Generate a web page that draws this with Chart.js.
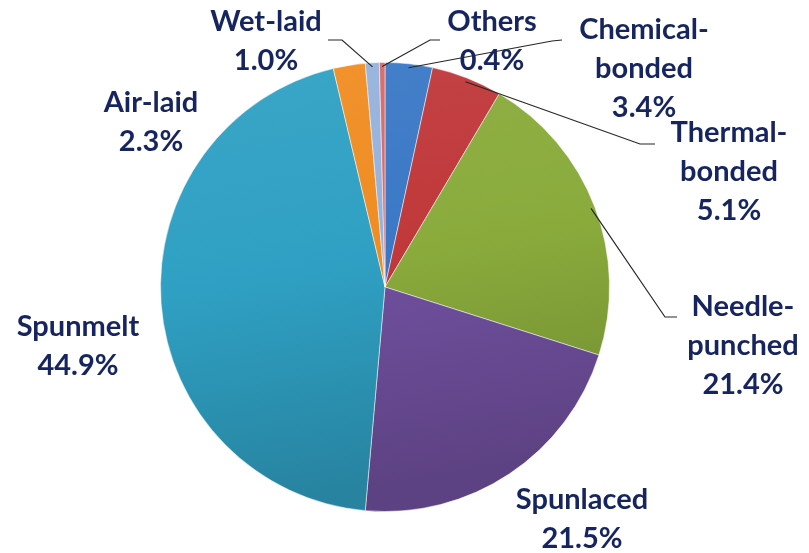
<!DOCTYPE html>
<html>
<head>
<meta charset="utf-8">
<script src="https://cdn.jsdelivr.net/npm/chart.js@4"></script>
<style>
  html, body { margin: 0; padding: 0; background: #ffffff; }
  #wrap { width: 809px; height: 553px; }
</style>
</head>
<body>
<div id="wrap"><canvas id="pie"></canvas></div>
<script>
// Datos del gráfico
const categories = ['Chemical-bonded', 'Thermal-bonded', 'Needle-punched', 'Spunlaced', 'Spunmelt', 'Air-laid', 'Wet-laid', 'Others'];
const shares = [3.4, 5.1, 21.4, 21.5, 44.9, 2.3, 1.0, 0.4];
const labelLines = [['Chemical-', 'bonded'], ['Thermal-', 'bonded'], ['Needle-', 'punched'], ['Spunlaced'], ['Spunmelt'], ['Air-laid'], ['Wet-laid'], ['Others']];

// Colores de cada sector
const colors = ['#3a78c6', '#c0383a', '#8aab3c', '#7150a0', '#2fa0c3', '#f08c22', '#96b2dc', '#d46a6a'];

// Posición de las etiquetas respecto al centro del pastel (px)
const labelLayout = [
    { dx: 259, dy: -257, elbow: [167, -246], end: [177, -247] },
    { dx: 344, dy: -154, elbow: [255, -143], end: [270, -143] },
    { dx: 358, dy: 20, elbow: [280, 30], end: [292, 30] },
    { dx: 197, dy: 213 },
    { dx: -307, dy: 40 },
    { dx: -234, dy: -184 },
    { dx: -119, dy: -265, elbow: [-43, -247], end: [-57, -247] },
    { dx: 107, dy: -265, elbow: [45, -247], end: [55, -247] }
];

function shade(hex, amt) {
    const n = parseInt(hex.slice(1), 16);
    let r = (n >> 16) & 255, g = (n >> 8) & 255, b = n & 255;
    const f = c => Math.max(0, Math.min(255, Math.round(amt >= 0 ? c + (255 - c) * amt : c * (1 + amt))));
    return `rgb(${f(r)}, ${f(g)}, ${f(b)})`;
}

// Degradado vertical para dar algo de volumen
function sliceGradient(context) {
    const chart = context.chart;
    const area = chart.chartArea;
    const base = colors[context.dataIndex];
    if (!area) return base;
    const grad = chart.ctx.createLinearGradient(area.left, area.top, area.left + 80, area.bottom);
    grad.addColorStop(0, shade(base, 0.06));
    grad.addColorStop(0.5, base);
    grad.addColorStop(1, shade(base, -0.18));
    return grad;
}

// Plugin para dibujar etiquetas y líneas guía
const pieLabels = {
    id: 'pieLabels',
    afterDatasetsDraw(chart) {
        const ctx = chart.ctx;
        const arcs = chart.getDatasetMeta(0).data;
        ctx.save();
        arcs.forEach((arc, i) => {
            const { x, y, startAngle, endAngle, outerRadius } = arc.getProps(['x', 'y', 'startAngle', 'endAngle', 'outerRadius'], true);
            const mid = (startAngle + endAngle) / 2;
            const lay = labelLayout[i];

            if (lay.elbow) {
                const r = outerRadius - 4;
                ctx.beginPath();
                ctx.moveTo(x + Math.cos(mid) * r, y + Math.sin(mid) * r);
                ctx.lineTo(x + lay.elbow[0], y + lay.elbow[1]);
                ctx.lineTo(x + lay.end[0], y + lay.end[1]);
                ctx.strokeStyle = '#262626';
                ctx.lineWidth = 1.2;
                ctx.stroke();
            }

            const lines = labelLines[i].concat([shares[i].toFixed(1) + '%']);
            ctx.font = 'bold 29px Lato';
            ctx.fillStyle = '#16245f';
            ctx.textAlign = 'center';
            ctx.textBaseline = 'middle';
            lines.forEach((t, k) => {
                ctx.fillText(t, x + lay.dx, y + lay.dy + k * 39);
            });
        });
        ctx.restore();
    }
};

const ctx = document.getElementById('pie').getContext('2d');
new Chart(ctx, {
    type: 'pie',
    data: {
        labels: categories,
        datasets: [{
            data: shares,
            backgroundColor: sliceGradient,
            borderColor: 'rgba(255, 255, 255, 0.5)',
            borderWidth: 1
        }]
    },
    options: {
        responsive: true,
        maintainAspectRatio: false,
        animation: false,
        rotation: 0,
        layout: {
            padding: { left: 160, right: 199, top: 62, bottom: 41 }
        },
        plugins: {
            legend: { display: false },
            tooltip: { enabled: false }
        }
    },
    plugins: [pieLabels]
});
</script>
</body>
</html>
